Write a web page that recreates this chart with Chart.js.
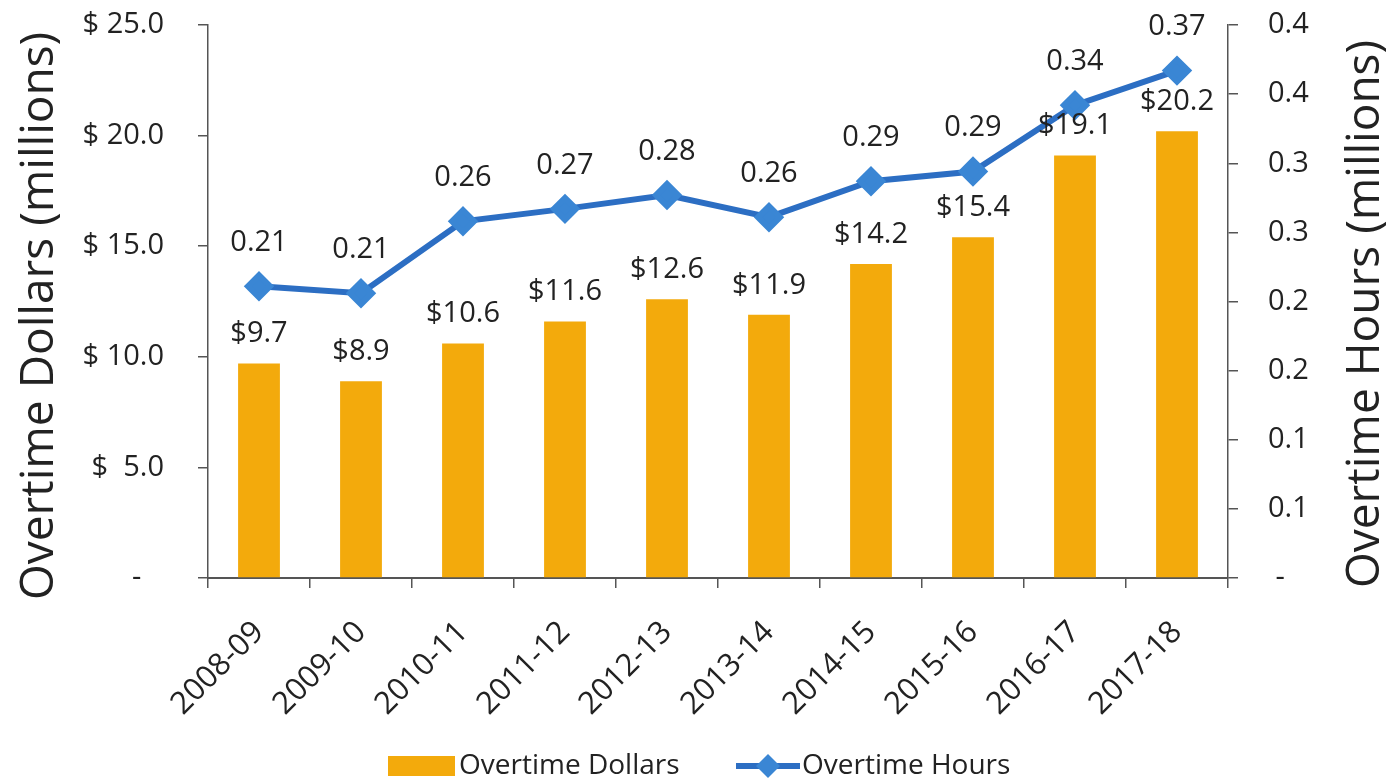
<!DOCTYPE html>
<html>
<head>
<meta charset="utf-8">
<script src="https://cdn.jsdelivr.net/npm/chart.js@4"></script>
<style>
  html, body { margin: 0; padding: 0; background: #fff; }
  #wrap { width: 1393px; height: 783px; }
</style>
</head>
<body>
<div id="wrap"><canvas id="myChart" width="1393" height="783"></canvas></div>
<script>
// data
var years = ['2008-09', '2009-10', '2010-11', '2011-12', '2012-13', '2013-14', '2014-15', '2015-16', '2016-17', '2017-18'];
var dollars = [9.7, 8.9, 10.6, 11.6, 12.6, 11.9, 14.2, 15.4, 19.1, 20.2];
var hours = [0.211, 0.206, 0.258, 0.267, 0.277, 0.261, 0.287, 0.294, 0.342, 0.367];
var seriesNames = ['Overtime Dollars', 'Overtime Hours'];
var axisTitles = ['Overtime Dollars (millions)', 'Overtime Hours (millions)'];

var FONT = '"Open Sans", "Noto Sans", sans-serif';
var TEXT = '#222222';
var AXIS = '#555555';
var BAR = '#F3AA0C';
var LINE = '#2C6EC3';
var MARK = '#3A86D4';

var extras = {
    id: 'extras',
    afterDatasetsDraw: function(chart) {
        var ctx = chart.ctx;
        ctx.save();
        ctx.fillStyle = TEXT;
        ctx.font = '29px ' + FONT;
        ctx.textAlign = 'center';
        ctx.textBaseline = 'bottom';
        // dataset 0 = bars, dataset 1 = line
        chart.getDatasetMeta(0).data.forEach(function(bar, i) {
            ctx.fillText('$' + dollars[i].toFixed(1), bar.x, bar.y - 15);
        });
        chart.getDatasetMeta(1).data.forEach(function(pt, i) {
            ctx.fillText(hours[i].toFixed(2), pt.x, pt.y - 29);
        });
        ctx.restore();
    },
    afterDraw: function(chart) {
        var ctx = chart.ctx;
        ctx.save();
        ctx.fillStyle = TEXT;
        ctx.font = '46px ' + FONT;
        ctx.textAlign = 'center';
        ctx.textBaseline = 'middle';
        // left title
        ctx.save();
        ctx.translate(40, 316);
        ctx.rotate(-Math.PI / 2);
        ctx.fillText(axisTitles[0], 0, 0);
        ctx.restore();
        // right title, also reads bottom to top
        ctx.save();
        ctx.translate(1366, 314);
        ctx.rotate(-Math.PI / 2);
        ctx.fillText(axisTitles[1], 0, 0);
        ctx.restore();

        // legend
        var ly = 766;
        ctx.font = '28px ' + FONT;
        ctx.textAlign = 'left';
        ctx.fillStyle = BAR;
        ctx.fillRect(388, ly - 10, 67, 20);
        ctx.fillStyle = TEXT;
        ctx.fillText(seriesNames[0], 459, ly);

        ctx.strokeStyle = LINE;
        ctx.lineWidth = 6;
        ctx.beginPath();
        ctx.moveTo(736, ly);
        ctx.lineTo(800, ly);
        ctx.stroke();
        ctx.fillStyle = MARK;
        ctx.beginPath();
        ctx.moveTo(768, ly - 12);
        ctx.lineTo(780, ly);
        ctx.lineTo(768, ly + 12);
        ctx.lineTo(756, ly);
        ctx.closePath();
        ctx.fill();
        ctx.fillStyle = TEXT;
        ctx.fillText(seriesNames[1], 802, ly);
        ctx.restore();
    }
};

// tick label padding would otherwise push the plot area down
function fixPad(s, w) {
    s.width = w;
    s.paddingTop = 10;
    s.paddingBottom = 10;
}

var ctx = document.getElementById('myChart').getContext('2d');
var myChart = new Chart(ctx, {
    type: 'bar',
    data: {
        labels: years,
        datasets: [{
            type: 'bar',
            label: seriesNames[0],
            data: dollars,
            yAxisID: 'y',
            backgroundColor: BAR,
            barPercentage: 0.41,
            categoryPercentage: 1,
            order: 2
        }, {
            type: 'line',
            label: seriesNames[1],
            data: hours,
            yAxisID: 'y1',
            borderColor: LINE,
            borderWidth: 6,
            backgroundColor: MARK,
            pointBackgroundColor: MARK,
            pointBorderColor: MARK,
            pointStyle: 'rectRot',
            pointRadius: 11,
            tension: 0,
            order: 1
        }]
    },
    options: {
        responsive: false,
        animation: false,
        layout: { padding: { top: 25, right: 0, bottom: 0, left: 0 } },
        plugins: {
            legend: { display: false },
            tooltip: { enabled: false }
        },
        scales: {
            x: {
                offset: true,
                grid: { display: true, drawOnChartArea: false, offset: true, tickLength: 10, color: AXIS, lineWidth: 1.5 },
                border: { color: AXIS, width: 2 },
                ticks: { color: TEXT, font: { family: FONT, size: 31 }, maxRotation: 45, minRotation: 45, padding: 26 },
                afterFit: function(s) { s.height = 205; }
            },
            y: {
                position: 'left',
                min: 0,
                max: 25,
                grid: { drawOnChartArea: false, tickLength: 10, color: AXIS, lineWidth: 1.5 },
                border: { color: AXIS, width: 1.5 },
                ticks: {
                    stepSize: 5,
                    color: TEXT,
                    font: { family: FONT, size: 29 },
                    padding: 34,
                    callback: function(v) {
                        if (v === 0) return '-   ';
                        return (v < 10 ? '$  ' : '$ ') + v.toFixed(1);
                    }
                },
                afterFit: function(s) { fixPad(s, 208); }
            },
            y1: {
                position: 'right',
                min: 0,
                max: 0.4,
                grid: { drawOnChartArea: false, tickLength: 10, color: AXIS, lineWidth: 1.5 },
                border: { color: AXIS, width: 1.5 },
                ticks: {
                    stepSize: 0.05,
                    color: TEXT,
                    font: { family: FONT, size: 29 },
                    padding: 30,
                    callback: function(v) {
                        if (Math.abs(v) < 1e-9) return ' -';
                        return (Math.round(v * 10 + 1e-6) / 10).toFixed(1);
                    }
                },
                afterFit: function(s) { fixPad(s, 165); }
            }
        }
    },
    plugins: [extras]
});
</script>
</body>
</html>
